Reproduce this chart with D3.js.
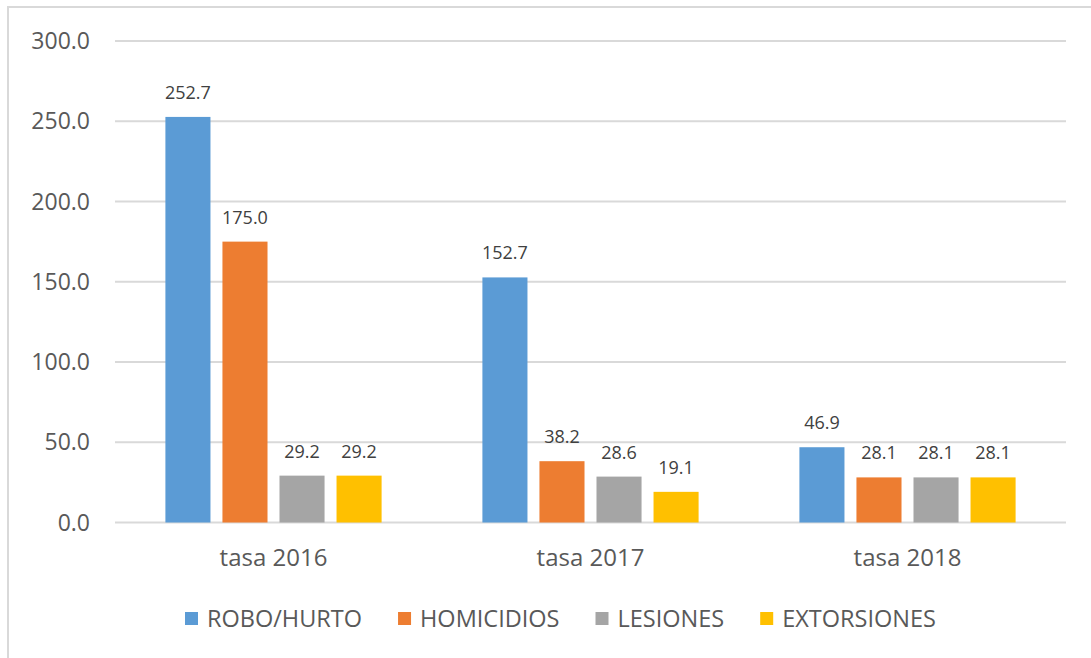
<!DOCTYPE html>
<html>
    <head>
        <meta charset="utf-8">
        <script src="https://d3js.org/d3.v7.min.js"></script>
        <style>
            body { margin: 0; background: #fff; }
            text { font-family: "Open Sans", sans-serif; }
        </style>
    </head>
    <body>
        <div id="chart"></div>
        <script>
            // data
            var categories = ["tasa 2016", "tasa 2017", "tasa 2018"];
            var seriesNames = ["ROBO/HURTO", "HOMICIDIOS", "LESIONES", "EXTORSIONES"];
            var robo = [252.7, 152.7, 46.9];
            var homicidios = [175.0, 38.2, 28.1];
            var lesiones = [29.2, 28.6, 28.1];
            var extorsiones = [29.2, 19.1, 28.1];
            var yTicks = [0, 50, 100, 150, 200, 250, 300];
            var colors = ["#5B9BD5", "#ED7D31", "#A5A5A5", "#FFC000"];

            var seriesValues = [robo, homicidios, lesiones, extorsiones];

            var w = 1091, h = 658;
            var plotLeft = 115, plotRight = 1066, plotTop = 41, plotBottom = 522.5;

            var svg = d3.select('#chart').append('svg')
                .attr('width', w).attr('height', h);

            // chart border (cut at right and bottom like the screenshot)
            svg.append('rect')
                .attr('x', 8).attr('y', 7)
                .attr('width', 1200).attr('height', 800)
                .attr('fill', 'none')
                .attr('stroke', '#d9d9d9')
                .attr('stroke-width', 2);

            var y = d3.scaleLinear().domain([0, 300]).range([plotBottom, plotTop]);
            var x0 = d3.scaleBand().domain(categories).range([plotLeft, plotRight]).padding(0);
            var bw = x0.bandwidth();
            var x1 = d3.scaleBand().domain(seriesNames)
                .range([bw * 0.159, bw * 0.841])
                .paddingInner(0.21).paddingOuter(0);

            // gridlines
            svg.append('g').selectAll('line')
                .data(yTicks).enter().append('line')
                .attr('x1', plotLeft).attr('x2', plotRight)
                .attr('y1', function(d) { return y(d); })
                .attr('y2', function(d) { return y(d); })
                .attr('stroke', '#d9d9d9')
                .attr('stroke-width', 2);

            // y tick labels
            svg.append('g').selectAll('text')
                .data(yTicks).enter().append('text')
                .attr('x', 90)
                .attr('y', function(d) { return y(d); })
                .attr('dy', '0.35em')
                .attr('text-anchor', 'end')
                .attr('font-size', 23)
                .attr('fill', '#595959')
                .text(function(d) { return d3.format('.1f')(d); });

            // bars
            var groups = svg.append('g').selectAll('g')
                .data(categories).enter().append('g')
                .attr('transform', function(d) { return 'translate(' + x0(d) + ',0)'; });

            groups.selectAll('rect')
                .data(function(c, i) {
                    return seriesNames.map(function(s, j) {
                        return { name: s, value: seriesValues[j][i], color: colors[j] };
                    });
                })
                .enter().append('rect')
                .attr('x', function(d) { return x1(d.name); })
                .attr('y', function(d) { return y(d.value); })
                .attr('width', x1.bandwidth())
                .attr('height', function(d) { return y(0) - y(d.value); })
                .attr('fill', function(d) { return d.color; });

            // value labels
            groups.selectAll('text')
                .data(function(c, i) {
                    return seriesNames.map(function(s, j) {
                        return { name: s, value: seriesValues[j][i] };
                    });
                })
                .enter().append('text')
                .attr('x', function(d) { return x1(d.name) + x1.bandwidth() / 2; })
                .attr('y', function(d) { return y(d.value) - 18; })
                .attr('text-anchor', 'middle')
                .attr('font-size', 18)
                .attr('fill', '#404040')
                .text(function(d) { return d3.format('.1f')(d.value); });

            // category labels
            svg.append('g').selectAll('text')
                .data(categories).enter().append('text')
                .attr('x', function(d) { return x0(d) + bw / 2; })
                .attr('y', 566)
                .attr('text-anchor', 'middle')
                .attr('font-size', 24)
                .attr('fill', '#595959')
                .text(function(d) { return d; });

            // legend
            var legend = svg.append('g');
            var lx = 185;
            seriesNames.forEach(function(s, i) {
                legend.append('rect')
                    .attr('x', lx).attr('y', 612)
                    .attr('width', 13).attr('height', 13)
                    .attr('fill', colors[i]);
                var t = legend.append('text')
                    .attr('x', lx + 22).attr('y', 626.5)
                    .attr('font-size', 23.5)
                    .attr('fill', '#595959')
                    .text(s);
                lx = lx + 22 + t.node().getComputedTextLength() + 36;
            });
        </script>
    </body>
</html>
